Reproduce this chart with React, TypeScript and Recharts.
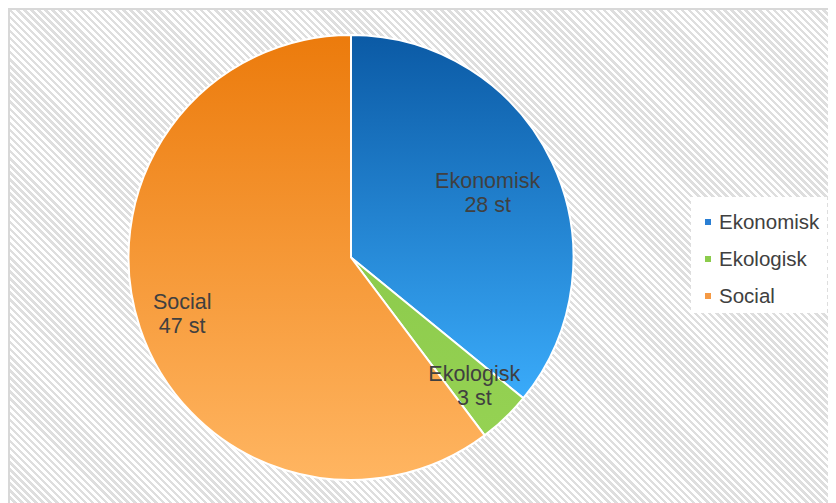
import { Cell, Legend, Pie, PieChart } from "recharts"

// Antal per kategori
const categories = ["Ekonomisk", "Ekologisk", "Social"]
const counts = [28, 3, 47]
const unit = "st"

const data = categories.map((name, i) => ({ name, value: counts[i] }))

const gradients = [
  { id: "gradEkonomisk", top: "#0b5aa5", bottom: "#3aabfa" },
  { id: "gradEkologisk", top: "#8dcb4c", bottom: "#95d253" },
  { id: "gradSocial", top: "#ec7b0c", bottom: "#ffb561" },
]
const markerColors = ["#2a7fd4", "#8ccc4c", "#f59a45"]
const labelRadius = [0.68, 0.8, 0.8]

const RAD = Math.PI / 180
const font = "'Liberation Sans', Arial, sans-serif"

function SliceLabel(props: any) {
  const { cx, cy, midAngle, outerRadius, index, name, value } = props
  const r = outerRadius * labelRadius[index]
  const x = cx + r * Math.cos(-midAngle * RAD)
  const y = cy + r * Math.sin(-midAngle * RAD)
  return (
    <text x={x} y={y} textAnchor="middle" fill="#404040" fontSize={21.5} fontFamily={font}>
      <tspan x={x} y={y - 12} dominantBaseline="central">{name}</tspan>
      <tspan x={x} y={y + 12} dominantBaseline="central">{`${value} ${unit}`}</tspan>
    </text>
  )
}

function LegendBox() {
  return (
    <div style={{ background: "#fff", width: 136, height: 116, boxSizing: "border-box", paddingTop: 6, fontFamily: font }}>
      {categories.map((c, i) => (
        <div key={c} style={{ display: "flex", alignItems: "center", height: 37, paddingLeft: 14 }}>
          <span style={{ width: 6, height: 6, background: markerColors[i], marginRight: 8 }} />
          <span style={{ fontSize: 20.5, color: "#404040" }}>{c}</span>
        </div>
      ))}
    </div>
  )
}

export default function App() {
  return (
    <div
      style={{
        width: 828,
        height: 495,
        boxSizing: "border-box",
        borderTop: "2px solid #d8d8d8",
        borderLeft: "2px solid #d8d8d8",
        background: "repeating-linear-gradient(45deg, #ffffff 0px, #ffffff 2.5px, #dedede 2.5px, #dedede 5px)",
        overflow: "hidden",
      }}
    >
      <PieChart width={826} height={493} margin={{ top: 0, right: 0, bottom: 0, left: 0 }}>
        <defs>
          {gradients.map((g) => (
            <linearGradient key={g.id} id={g.id} x1="0" y1="0" x2="0" y2="1">
              <stop offset="0%" stopColor={g.top} />
              <stop offset="100%" stopColor={g.bottom} />
            </linearGradient>
          ))}
        </defs>
        <Pie
          data={data}
          dataKey="value"
          nameKey="name"
          cx={341}
          cy={247.5}
          outerRadius={222.5}
          startAngle={90}
          endAngle={-270}
          stroke="#ffffff"
          strokeWidth={2}
          label={SliceLabel}
          labelLine={false}
          isAnimationActive={false}
        >
          {data.map((d, i) => (
            <Cell key={d.name} fill={`url(#${gradients[i].id})`} />
          ))}
        </Pie>
        <Legend
          content={<LegendBox />}
          wrapperStyle={{ left: 681, top: 187, width: 136, height: 116, bottom: "auto", right: "auto" }}
        />
      </PieChart>
    </div>
  )
}
